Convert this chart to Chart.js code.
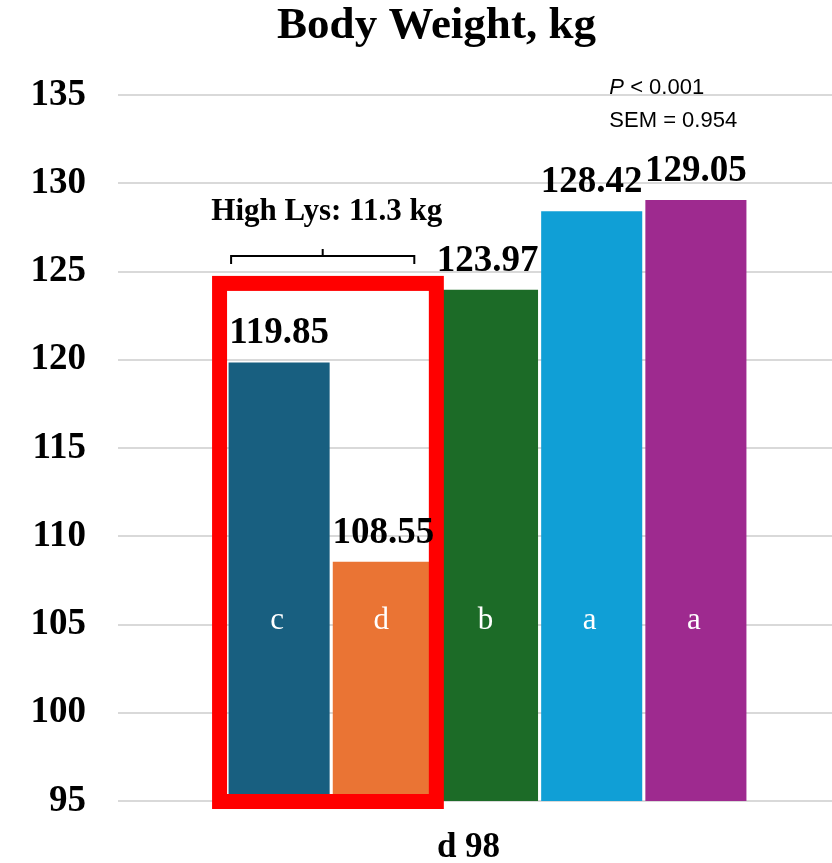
<!DOCTYPE html>
<html>
<head>
<meta charset="utf-8">
<script src="https://cdn.jsdelivr.net/npm/chart.js@4.4.1/dist/chart.umd.min.js"></script>
<style>
  html, body { margin: 0; padding: 0; background: #fff; }
  #wrap { width: 832px; height: 863px; overflow: hidden; }
</style>
</head>
<body>
<div id="wrap"><canvas id="chart" width="857" height="863"></canvas></div>
<script>
const categories = ["d 98"];
const groups = ["G1", "G2", "G3", "G4", "G5"];
const bodyWeight = [119.85, 108.55, 123.97, 128.42, 129.05];
const letters = ["c", "d", "b", "a", "a"];
const barColors = ["#185f80", "#ea7434", "#1c6b27", "#109fd6", "#9e2a8f"];
const yTicks = [95, 100, 105, 110, 115, 120, 125, 130, 135];
const titleText = "Body Weight, kg";
const bracketText = "High Lys: 11.3 kg";
const statLines = ["< 0.001", "SEM = 0.954"];

const serif = "'Liberation Serif', 'Times New Roman', serif";
const sans = "'Liberation Sans', Arial, sans-serif";

const annotations = {
  id: "annotations",
  afterDatasetsDraw(chart) {
    const ctx = chart.ctx;
    const y = chart.scales.y;
    const bars = chart.data.datasets.map((d, i) => chart.getDatasetMeta(i).data[0]);
    const base = y.getPixelForValue(95);
    ctx.save();

    // letters inside bars
    ctx.fillStyle = "#ffffff";
    ctx.font = "31px " + serif;
    ctx.textAlign = "center";
    ctx.textBaseline = "middle";
    bars.forEach((b, i) => ctx.fillText(letters[i], b.x - 2, y.getPixelForValue(105.2)));

    // red box around the first two bars
    const left = bars[0].x - bars[0].width / 2 - 16.5;
    const right = bars[1].x + bars[1].width / 2 + 10;
    const top = y.getPixelForValue(124.75);
    const bottom = base + 8;
    ctx.strokeStyle = "#ff0000";
    ctx.lineWidth = 15;
    ctx.strokeRect(left + 7.5, top + 7.5, right - left - 15, bottom - top - 15);

    // value labels
    ctx.fillStyle = "#000000";
    ctx.font = "bold 37px " + serif;
    ctx.textBaseline = "alphabetic";
    bars.forEach((b, i) => ctx.fillText(bodyWeight[i].toFixed(2), b.x, b.y - 19));

    // bracket
    const bx1 = bars[0].x - 48;
    const bx2 = bars[1].x + 31;
    const by = top - 20;
    const mid = (bx1 + bx2) / 2;
    ctx.strokeStyle = "#000000";
    ctx.lineWidth = 2;
    ctx.beginPath();
    ctx.moveTo(bx1, by + 8);
    ctx.lineTo(bx1, by);
    ctx.lineTo(bx2, by);
    ctx.lineTo(bx2, by + 8);
    ctx.moveTo(mid, by);
    ctx.lineTo(mid, by - 7);
    ctx.stroke();
    ctx.font = "bold 31px " + serif;
    ctx.fillText(bracketText, mid + 4, top - 56);

    // stats
    const sx = bars[4].x - bars[4].width / 2 - 36;
    ctx.textAlign = "left";
    ctx.font = "italic 22px " + sans;
    ctx.fillText("P", sx, chart.chartArea.top - 1);
    const pw = ctx.measureText("P ").width;
    ctx.font = "22px " + sans;
    ctx.fillText(statLines[0], sx + pw, chart.chartArea.top - 1);
    ctx.fillText(statLines[1], sx, chart.chartArea.top + 32);
    ctx.restore();
  }
};

new Chart(document.getElementById("chart"), {
  type: "bar",
  data: {
    labels: categories,
    datasets: groups.map((g, i) => ({
      label: g,
      data: [bodyWeight[i]],
      backgroundColor: barColors[i],
      borderWidth: 0,
      categoryPercentage: 0.705,
      barPercentage: 0.97
    }))
  },
  options: {
    responsive: false,
    animation: false,
    layout: { padding: { left: 16, right: 0, top: 0, bottom: 0 } },
    plugins: {
      legend: { display: false },
      tooltip: { enabled: false },
      title: {
        display: true,
        text: titleText,
        color: "#000",
        font: { family: serif, size: 45, weight: "bold", lineHeight: 1.0 },
        padding: { top: 4, bottom: 46 }
      }
    },
    scales: {
      x: {
        grid: { display: false, drawTicks: false },
        border: { display: false },
        ticks: {
          color: "#000",
          font: { family: serif, size: 35, weight: "bold" },
          padding: 26,
          labelOffset: -19
        },
        afterFit(scale) { scale.height = 62; }
      },
      y: {
        min: 95,
        max: 135,
        afterBuildTicks(scale) { scale.ticks = yTicks.map(v => ({ value: v })); },
        grid: { color: "#d9d9d9", lineWidth: 2, drawTicks: false, tickLength: 0 },
        border: { display: false },
        ticks: {
          color: "#000",
          font: { family: serif, size: 37, weight: "bold" },
          padding: 32
        },
        afterFit(scale) { scale.width = 102; }
      }
    }
  },
  plugins: [annotations]
});
</script>
</body>
</html>
